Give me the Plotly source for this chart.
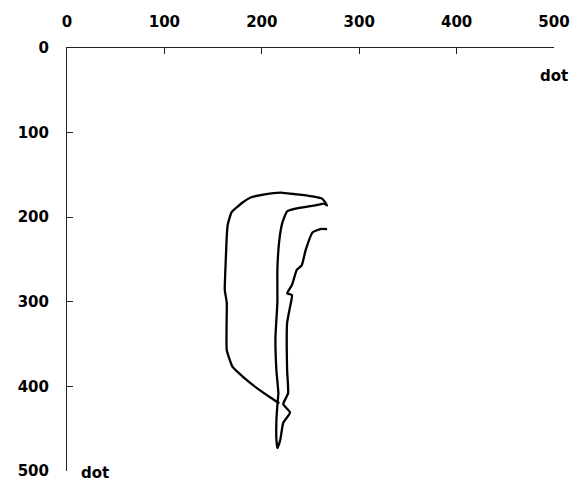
import plotly.graph_objects as go

# Pen trajectory sampled in screen dots (x to the right, y downward)
pen_x = [267, 260, 252, 245, 241, 236, 231, 226, 231, 229, 226, 226, 227, 222,
         229, 222, 219, 216, 215, 215, 216, 217, 215, 214, 216, 216, 218, 221,
         226, 239, 255, 264, 267, 262, 250, 236, 219, 203, 188, 181, 169, 165,
         164, 163, 162, 164, 164, 170, 181, 195, 210, 218]
pen_y = [214, 214, 218, 239, 257, 262, 280, 290, 292, 306, 325, 381, 408, 421,
         431, 443, 463, 473, 463, 440, 422, 408, 381, 342, 301, 262, 227, 207,
         193, 189, 186, 184, 186, 178, 175, 173, 171, 173, 177, 182, 194, 209,
         223, 251, 286, 301, 357, 377, 389, 402, 414, 420]

tick_vals = [0, 100, 200, 300, 400, 500]
unit_label = "dot"

label_font = dict(family="DejaVu Sans", size=15, color="black", weight="bold")

fig = go.Figure()
fig.add_trace(go.Scatter(
    x=pen_x, y=pen_y, mode="lines",
    line=dict(color="black", width=2.3, shape="spline", smoothing=0.4),
    hoverinfo="skip", showlegend=False,
))

axis_common = dict(
    tickvals=tick_vals, ticktext=[str(v) for v in tick_vals],
    ticks="inside", ticklen=6, tickwidth=1, tickcolor="#222",
    showline=True, linecolor="#222", linewidth=1,
    showgrid=False, zeroline=False, automargin=False,
    tickfont=label_font,
)

fig.update_layout(
    width=582, height=481,
    margin=dict(l=67, r=28, t=48, b=10),
    paper_bgcolor="white", plot_bgcolor="white",
    xaxis=dict(side="top", range=[0, 500], ticklabelstandoff=14, **axis_common),
    yaxis=dict(range=[500, 0], autorange=False, ticklabelstandoff=14, **axis_common),
    annotations=[
        dict(text=unit_label, xref="paper", yref="paper", x=1.0, y=1 - 28 / 423,
             xanchor="center", yanchor="middle", showarrow=False, font=label_font),
        dict(text=unit_label, xref="paper", yref="paper", x=28 / 487, y=-0.005,
             xanchor="center", yanchor="middle", showarrow=False, font=label_font),
    ],
)

fig.write_html("out.html")
